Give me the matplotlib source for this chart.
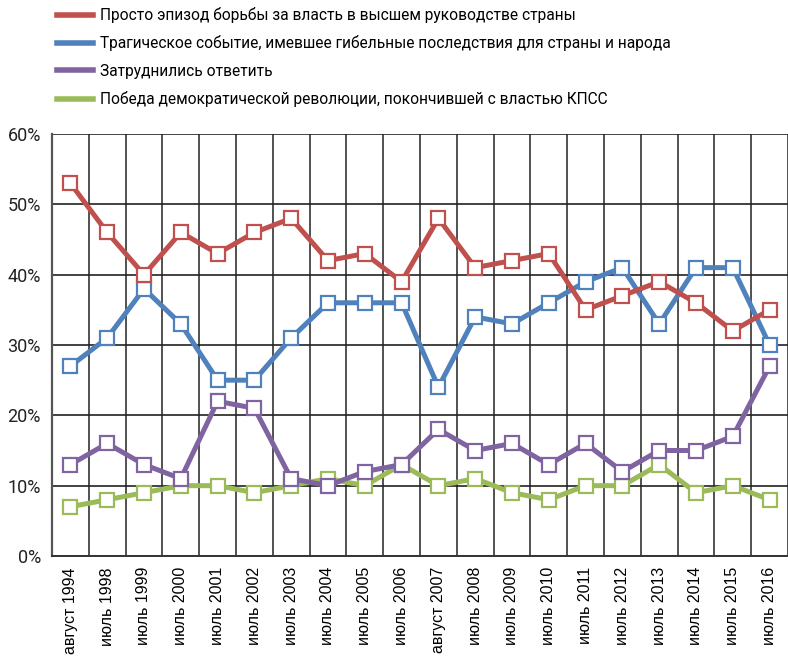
import numpy as np
import matplotlib
matplotlib.use("Agg")
import matplotlib.pyplot as plt
from matplotlib.lines import Line2D

# survey waves
labels = ["август 1994", "июль 1998", "июль 1999", "июль 2000", "июль 2001",
          "июль 2002", "июль 2003", "июль 2004", "июль 2005", "июль 2006",
          "август 2007", "июль 2008", "июль 2009", "июль 2010", "июль 2011",
          "июль 2012", "июль 2013", "июль 2014", "июль 2015", "июль 2016"]

episode = [53, 46, 40, 46, 43, 46, 48, 42, 43, 39, 48, 41, 42, 43, 35, 37, 39, 36, 32, 35]
tragedy = [27, 31, 38, 33, 25, 25, 31, 36, 36, 36, 24, 34, 33, 36, 39, 41, 33, 41, 41, 30]
no_answer = [13, 16, 13, 11, 22, 21, 11, 10, 12, 13, 18, 15, 16, 13, 16, 12, 15, 15, 17, 27]
victory = [7, 8, 9, 10, 10, 9, 10, 11, 10, 13, 10, 11, 9, 8, 10, 10, 13, 9, 10, 8]

series_names = ["Просто эпизод борьбы за власть в высшем руководстве страны",
                "Трагическое событие, имевшее гибельные последствия для страны и народа",
                "Затруднились ответить",
                "Победа демократической революции, покончившей с властью КПСС"]
colors = ["#C0504D", "#4F81BD", "#8064A2", "#9BBB59"]

narrow = ["Roboto", "DejaVu Sans"]

fig = plt.figure(figsize=(7.88, 6.58), dpi=100)
ax = fig.add_axes([52 / 788, 102 / 658, 736 / 788, 422 / 658])

x = np.arange(len(labels))
# draw back to front so red ends on top like the original
for vals, c in reversed(list(zip([episode, tragedy, no_answer, victory], colors))):
    ax.plot(x, vals, color=c, lw=3.6, marker="s", markersize=9.5,
            markerfacecolor="white", markeredgecolor=c, markeredgewidth=1.6, zorder=3)

ax.set_xlim(-0.5, len(labels) - 0.5)
ax.set_ylim(0, 60)
ax.set_yticks(range(0, 61, 10))
ax.set_yticklabels([f"{v}%" for v in range(0, 61, 10)], family=narrow, fontsize=13, color="#222222")
ax.set_xticks(x)
ax.set_xticklabels(labels, rotation=90, family=["Liberation Sans", "DejaVu Sans"],
                   fontsize=11.5)
ax.set_xticks(np.arange(-0.5, len(labels)), minor=True)
ax.tick_params(axis="both", which="both", length=0)
ax.tick_params(axis="y", pad=8)
ax.tick_params(axis="x", pad=8)
ax.grid(axis="y", which="major", color="#222222", lw=1.2, zorder=1)
ax.grid(axis="x", which="minor", color="#333333", lw=1.2, zorder=1)
for side in ["top", "right"]:
    ax.spines[side].set_visible(False)
ax.spines["left"].set_color("#555555")
ax.spines["left"].set_linewidth(1.6)
ax.spines["bottom"].set_color("#333333")
ax.spines["bottom"].set_linewidth(1.4)

handles = [Line2D([], [], color=c, lw=4) for c in colors]
fig.legend(handles, series_names, loc="upper left", bbox_to_anchor=(43 / 788, 1 + 7 / 658),
           frameon=False, prop={"family": narrow, "size": 11.2},
           handlelength=2.3, handletextpad=0.45, labelspacing=0.8)

fig.savefig("out.png", dpi=100)
